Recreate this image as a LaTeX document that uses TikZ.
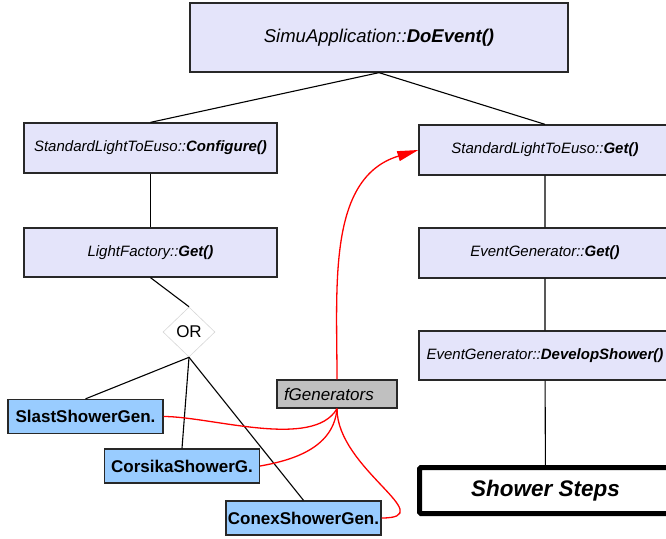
\documentclass[tikz,border=0pt]{standalone}
\usepackage{fontspec}
\setmainfont{Liberation Sans}
\usetikzlibrary{calc,positioning,arrows.meta,shapes.geometric}

\definecolor{callfill}{RGB}{228,228,250}
\definecolor{genfill}{RGB}{153,204,255}
\definecolor{vecfill}{RGB}{192,192,192}
\definecolor{boxline}{RGB}{40,40,40}
\definecolor{orline}{RGB}{215,215,215}

\tikzset{
  callbox/.style={rectangle,draw=boxline,line width=1.3pt,fill=callfill,inner sep=0pt,
    minimum width=252pt,minimum height=50pt,font=\fontsize{15}{18}\selectfont\itshape},
  genbox/.style={rectangle,draw=boxline,line width=1.3pt,fill=genfill,inner sep=0pt,
    minimum width=155pt,minimum height=34pt,font=\fontsize{17}{20}\selectfont\bfseries},
  tree/.style={draw=black,line width=1.1pt},
  link/.style={draw=red,line width=1.3pt}
}

\begin{document}
\begin{tikzpicture}[x=1pt,y=1pt]

  \useasboundingbox (0,0) rectangle (666,-538);
  \clip (0,0) rectangle (666,-538);

  \node (simu_app) [callbox,minimum width=378pt,minimum height=69pt,font=\fontsize{18.5}{22}\selectfont\itshape] at(379,-37.5) {SimuApplication::\textbf{DoEvent()}};

  %% left branch
  \node (conf) [callbox,minimum width=253pt] at(150.5,-148) {StandardLightToEuso::\textbf{Configure()}};
  \node (light_fac) [callbox,minimum width=253pt,minimum height=49pt] at(150.5,-252.5) {LightFactory::\textbf{Get()}};
  \node (or_gate) [diamond,draw=orline,line width=.6pt,fill=white,inner sep=0pt,minimum width=52pt,minimum height=50pt,font=\fontsize{17}{20}\selectfont] at(189,-332) {OR};

  \foreach \gname/\gx/\gy/\gtext in {slast/85.5/-416.5/SlastShowerGen.,corsika/182/-466/CorsikaShowerG.,conex/303.5/-518/ConexShowerGen.}
           {
             \node (\gname) [genbox] at(\gx,\gy) {\gtext};
           }

  \node (fgen) [rectangle,draw=boxline,line width=1.3pt,fill=vecfill,inner ysep=0pt,inner xsep=7pt,text width=106pt,align=left,minimum height=28pt,font=\fontsize{17}{20}\selectfont\itshape] at(337,-394) {fGenerators};

  %% right branch
  \node (get) [callbox] at(545,-150) {StandardLightToEuso::\textbf{Get()}};
  \node (evgen_get) [callbox] at(545,-253) {EventGenerator::\textbf{Get()}};
  \node (develop) [callbox,minimum height=49pt] at(545,-355.5) {EventGenerator::\textbf{DevelopShower()}};
  \node (steps) [rectangle,draw=black,line width=5pt,rounded corners=1.5pt,fill=white,inner sep=0pt,minimum width=252pt,minimum height=46pt,font=\fontsize{22.5}{26}\selectfont\bfseries\itshape] at(545.5,-490.5) {Shower Steps};

  \draw [tree] (simu_app.south) -- (conf.north);
  \draw [tree] (simu_app.south) -- (get.north);
  \draw [tree] (conf) -- (light_fac);
  \draw [tree] (light_fac.south) -- (or_gate.north);
  \foreach \gname in {slast,corsika,conex}
           \draw [tree] (or_gate.south) -- (\gname.north);
  \draw [tree] (get) -- (evgen_get) -- (develop) -- (steps);

  \draw [link,-{Triangle[length=21pt,width=10pt]}] (fgen.north) to[out=90,in=197] (get.west);
  \draw [link] (fgen.south) to[out=240,in=0,looseness=.7] (slast.east);
  \draw [link] (fgen.south) to[out=265,in=10] (corsika.east);
  \draw [link] (fgen.south) to[out=270,in=0,looseness=1.3] (conex.east);

\end{tikzpicture}
\end{document}
